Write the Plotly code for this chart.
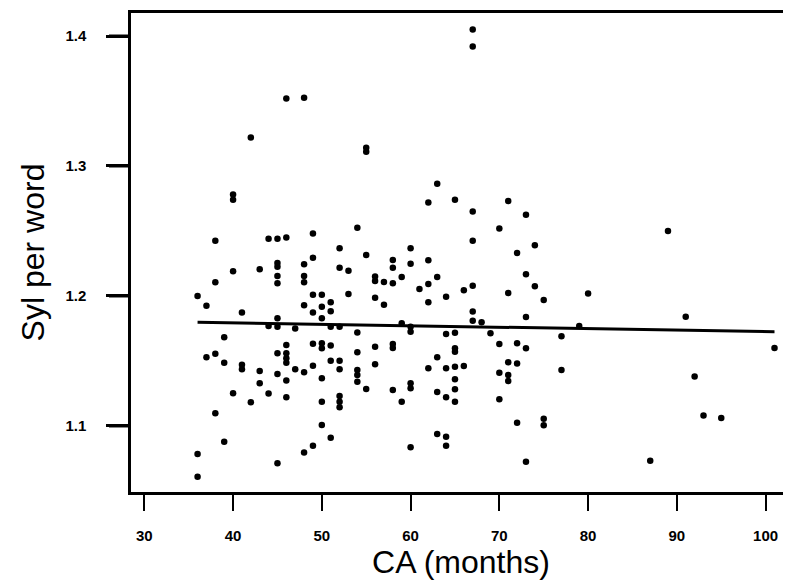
import plotly.graph_objects as go

# Data (CA in months, syllables per word)
ca_months = (
    [36]*3 + [37]*2 + [38]*4 + [39]*3 + [40]*4 + [41]*3 + [42]*2 + [43]*3 + [44]*3 +
    [45]*10 + [46]*8 + [47]*2 + [48]*7 + [49]*7 + [50]*8 + [51]*6 + [52]*8 + [53]*2 +
    [54]*6 + [55]*4 + [56]*5 + [57]*2 + [58]*6 + [59]*3 + [60]*7 + [61]*1 + [62]*5 +
    [63]*5 + [64]*6 + [65]*8 + [66]*2 + [67]*7 + [68]*1 + [69]*1 + [70]*4 + [71]*5 +
    [72]*4 + [73]*5 + [74]*2 + [75]*3 + [77]*2 + [79] + [80] + [87] + [89] + [91] +
    [92] + [93] + [95] + [101]
)
syl_per_word = [
    1.200, 1.0785, 1.061,
    1.1925, 1.1528,
    1.2425, 1.2105, 1.1556, 1.1098,
    1.1682, 1.1487, 1.0879,
    1.278, 1.274, 1.219, 1.1251,
    1.1872, 1.147, 1.1436,
    1.322, 1.1182,
    1.2205, 1.1423, 1.1328,
    1.244, 1.177, 1.1249,
    1.244, 1.2254, 1.2225, 1.2154, 1.2097, 1.1828, 1.1764, 1.156, 1.14, 1.0713,
    1.352, 1.245, 1.1623, 1.156, 1.152, 1.1487, 1.1349, 1.1221,
    1.175, 1.1436,
    1.3525, 1.2244, 1.2154, 1.2105, 1.1928, 1.1413, 1.0795,
    1.248, 1.2295, 1.201, 1.1872, 1.1633, 1.1464, 1.0848,
    1.201, 1.1918, 1.1828, 1.1636, 1.1598, 1.1367, 1.1187, 1.1008,
    1.1952, 1.1882, 1.1764, 1.162, 1.1502, 1.091,
    1.2367, 1.2218, 1.1764, 1.1502, 1.1436, 1.123, 1.1187, 1.1144,
    1.2195, 1.2015,
    1.2525, 1.172, 1.1567, 1.1431, 1.1392, 1.1341,
    1.314, 1.311, 1.2315, 1.1285,
    1.215, 1.2115, 1.1987, 1.161, 1.1474,
    1.2108, 1.1933,
    1.2277, 1.2218, 1.2098, 1.1631, 1.160, 1.1277,
    1.2146, 1.179, 1.1187,
    1.2367, 1.2248, 1.1764, 1.1725, 1.1328, 1.129, 1.0836,
    1.2054,
    1.272, 1.2275, 1.2092, 1.1952, 1.1444,
    1.2864, 1.2146, 1.1528, 1.1262, 1.0938,
    1.1995, 1.1708, 1.1444, 1.1221, 1.0918, 1.0848,
    1.274, 1.1718, 1.1597, 1.157, 1.1456, 1.1359, 1.1282, 1.1187,
    1.2044, 1.1462,
    1.405, 1.392, 1.265, 1.2425, 1.2079, 1.188, 1.181,
    1.1798,
    1.1713,
    1.252, 1.1631, 1.141, 1.1205,
    1.273, 1.2023, 1.149, 1.1392, 1.1346,
    1.233, 1.1636, 1.148, 1.1025,
    1.2625, 1.2167, 1.1838, 1.1597, 1.0725,
    1.239, 1.2075,
    1.1969, 1.1056, 1.1005,
    1.169, 1.143,
    1.177,
    1.202,
    1.0733,
    1.25,
    1.184,
    1.138,
    1.108,
    1.1062,
    1.160,
]

# Regression line end points
fit_x = [36, 101]
fit_y = [1.1798, 1.1725]

x_ticks = [30, 40, 50, 60, 70, 80, 90, 100]
y_ticks = [1.1, 1.2, 1.3, 1.4]

FIG_W, FIG_H = 783, 575
M_L, M_R, M_T, M_B = 123, 0, 5, 91
PLOT_W = FIG_W - M_L - M_R
PLOT_H = FIG_H - M_T - M_B
Y_RANGE = [1.0492, 1.4177]
Y_TICK_LEN = 22

fig = go.Figure()
fig.add_trace(go.Scatter(
    x=ca_months, y=syl_per_word, mode="markers",
    marker=dict(color="black", size=6.5, symbol="circle"),
    showlegend=False,
))
fig.add_trace(go.Scatter(
    x=fit_x, y=fit_y, mode="lines",
    line=dict(color="black", width=3),
    showlegend=False,
))

# y tick marks drawn explicitly in paper coordinates (outside the axis line)
for yv in y_ticks:
    yp = (yv - Y_RANGE[0]) / (Y_RANGE[1] - Y_RANGE[0])
    fig.add_shape(
        type="line", xref="paper", yref="paper",
        x0=-Y_TICK_LEN / PLOT_W, x1=0, y0=yp, y1=yp,
        line=dict(color="black", width=3), layer="above",
    )

# The page body adds an 8px offset, so the figure is sized to fit after it.
fig.update_layout(
    width=FIG_W, height=FIG_H,
    margin=dict(l=M_L, r=M_R, t=M_T, b=M_B),
    paper_bgcolor="white", plot_bgcolor="white",
    font=dict(family="Liberation Sans, Arial, sans-serif", color="black"),
)
fig.update_xaxes(
    range=[28.5, 102.86], automargin=False,
    tickvals=x_ticks, ticktext=[str(v) for v in x_ticks],
    ticks="outside", ticklen=16, tickwidth=2, tickcolor="black",
    tickfont=dict(size=15, family="Liberation Sans, Arial", weight="bold"),
    ticklabelstandoff=12,
    showline=True, linecolor="black", linewidth=2.5, mirror=True,
    showgrid=False, zeroline=False,
    title=dict(text="CA (months)", font=dict(size=32), standoff=6),
)
fig.update_yaxes(
    range=Y_RANGE, automargin=False,
    tickvals=y_ticks, ticktext=["1.1", "1.2", "1.3", "1.4"],
    ticks="outside", ticklen=Y_TICK_LEN, tickwidth=3, tickcolor="black",
    tickfont=dict(size=15, family="Liberation Sans, Arial", weight="bold"),
    ticklabelstandoff=17,
    showline=True, linecolor="black", linewidth=2.5, mirror=False,
    showgrid=False, zeroline=False,
    title=dict(text="Syl per word", font=dict(size=32), standoff=12),
)

fig.write_html("out.html")
